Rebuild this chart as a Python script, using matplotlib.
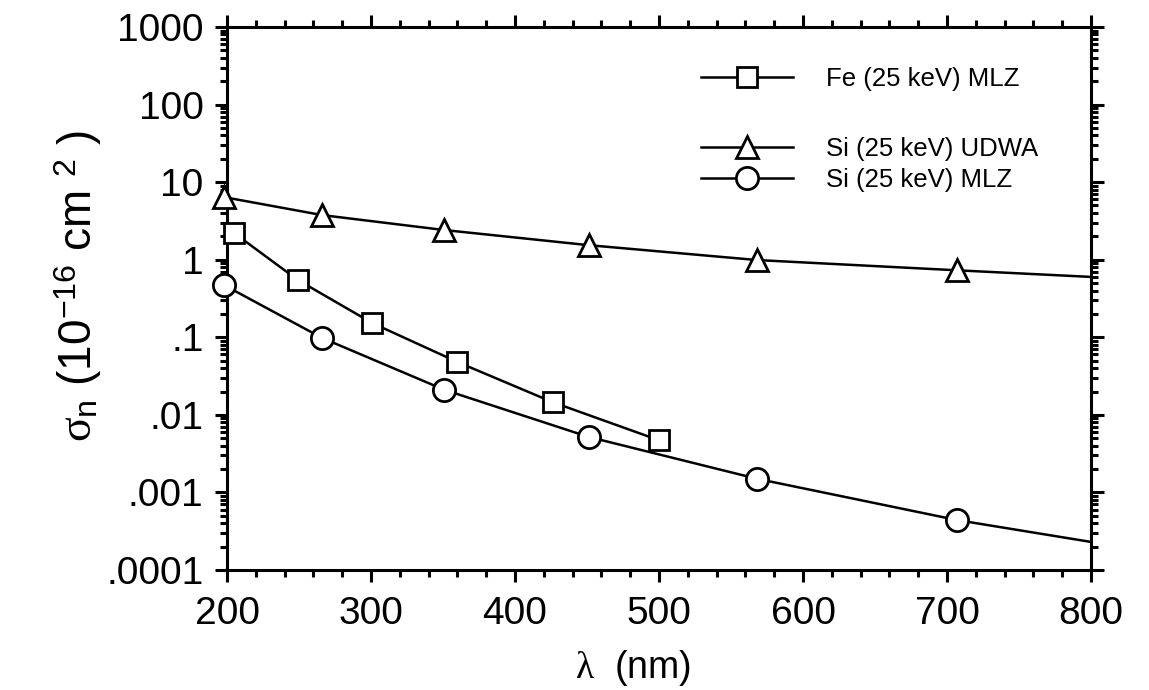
import numpy as np
import matplotlib
matplotlib.use("Agg")
import matplotlib.pyplot as plt
from matplotlib.ticker import FixedLocator, FixedFormatter, LogLocator, MultipleLocator, NullFormatter

plt.rcParams['font.family'] = ['Liberation Sans', 'DejaVu Sans']
plt.rcParams['mathtext.fontset'] = 'custom'
plt.rcParams['mathtext.rm'] = 'Liberation Sans'
plt.rcParams['mathtext.it'] = 'Liberation Serif'

# wavelength (nm) and cross-section (1e-16 cm^2)
fe_mlz_x = [205, 249, 301, 360, 426, 500]
fe_mlz_y = [2.2, 0.55, 0.152, 0.048, 0.0146, 0.0047]

si_udwa_x = [198, 266, 351, 451, 568, 707, 800]
si_udwa_y = [6.4, 3.76, 2.41, 1.54, 0.99, 0.73, 0.60]

si_mlz_x = [198, 266, 351, 451, 568, 707, 800]
si_mlz_y = [0.47, 0.098, 0.021, 0.0052, 0.0015, 0.00044, 0.00023]

y_ticks = [1e-4, 1e-3, 1e-2, 1e-1, 1, 10, 100, 1000]
y_tick_labels = ['.0001', '.001', '.01', '.1', '1', '10', '100', '1000']
x_ticks = [200, 300, 400, 500, 600, 700, 800]

fig = plt.figure(figsize=(11.49, 6.9), dpi=100)
ax = fig.add_axes([0.1976, 0.1739, 0.752, 0.787])

mk = dict(color='black', lw=1.8, markerfacecolor='white', markeredgecolor='black',
          markeredgewidth=2.0, clip_on=False, zorder=3)

l_fe, = ax.plot(fe_mlz_x, fe_mlz_y, marker='s', ms=14.5, label='Fe (25 keV) MLZ', **mk)
l_udwa, = ax.plot(si_udwa_x, si_udwa_y, marker='^', ms=16, markevery=list(range(6)),
                  label='Si (25 keV) UDWA', **mk)
l_mlz, = ax.plot(si_mlz_x, si_mlz_y, marker='o', ms=16, markevery=list(range(6)),
                 label='Si (25 keV) MLZ', **mk)

ax.set_yscale('log')
ax.set_xlim(200, 800)
ax.set_ylim(1e-4, 1e3)

ax.yaxis.set_major_locator(FixedLocator(y_ticks))
ax.yaxis.set_major_formatter(FixedFormatter(y_tick_labels))
ax.yaxis.set_minor_locator(LogLocator(base=10, subs=np.arange(2, 10), numticks=20))
ax.yaxis.set_minor_formatter(NullFormatter())
ax.xaxis.set_major_locator(FixedLocator(x_ticks))
ax.xaxis.set_minor_locator(MultipleLocator(20))

for s in ax.spines.values():
    s.set_linewidth(2.2)

ax.tick_params(which='both', direction='out', top=True, right=True, width=2.2)
ax.tick_params(which='major', labelsize=28)
ax.tick_params(axis='x', which='major', length=8.6, pad=10)
ax.tick_params(axis='x', which='minor', length=5)
ax.tick_params(axis='y', which='major', length=9, pad=8)
ax.tick_params(axis='y', which='minor', length=5)

ax.set_xlabel(r'$\lambda$  (nm)', fontsize=27)
ax.xaxis.set_label_coords(0.47, -0.143)
ax.xaxis.label.set_va('top')
ax.set_ylabel(r'$\sigma_{\rm n}$ (10$^{-16}$ cm $^{2}$ )', fontsize=33)
ax.yaxis.set_label_coords(-0.142, 0.523)

leg_kw = dict(frameon=False, fontsize=18.5, handlelength=3.6, handletextpad=1.3,
              borderpad=0, borderaxespad=0, labelspacing=0.28, loc='upper left')
leg1 = ax.legend(handles=[l_fe], bbox_to_anchor=(0.548, 0.926), **leg_kw)
ax.add_artist(leg1)
ax.legend(handles=[l_udwa, l_mlz], bbox_to_anchor=(0.548, 0.797), **leg_kw)

fig.savefig('out.png', dpi=100)
